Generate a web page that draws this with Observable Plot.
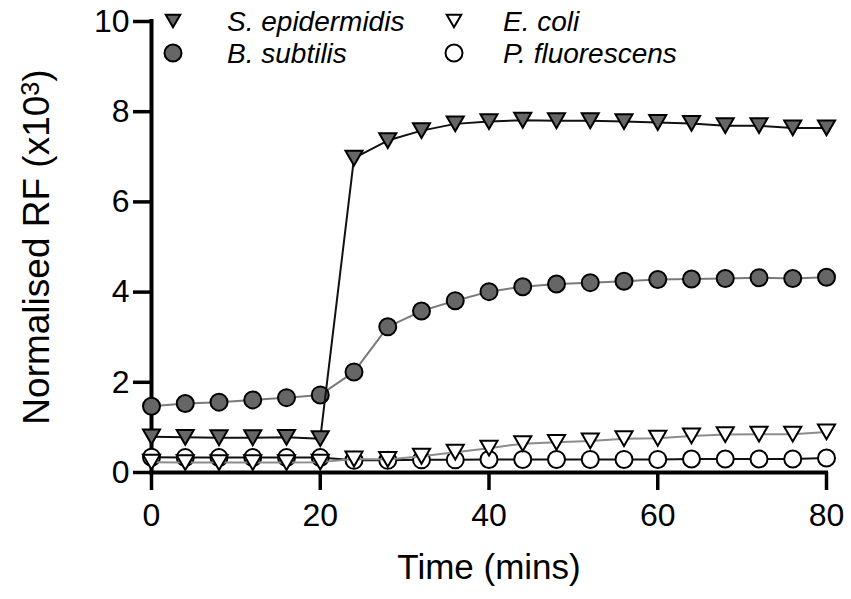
<!DOCTYPE html>
<html>
<head>
<meta charset="utf-8">
<script src="https://cdn.jsdelivr.net/npm/d3@7"></script>
<script src="https://cdn.jsdelivr.net/npm/@observablehq/plot@0.6"></script>
<style>
  html, body { margin: 0; padding: 0; background: #fff; }
  #chart { position: relative; width: 851px; height: 599px; }
</style>
</head>
<body>
<div id="chart"></div>
<script>
// ---- data ----
const time = [0, 4, 8, 12, 16, 20, 24, 28, 32, 36, 40, 44, 48, 52, 56, 60, 64, 68, 72, 76, 80];
const sEpidermidis = [0.79, 0.78, 0.77, 0.77, 0.78, 0.75, 6.97, 7.36, 7.58, 7.73, 7.78, 7.81, 7.80, 7.80, 7.78, 7.76, 7.74, 7.69, 7.69, 7.64, 7.64];
const bSubtilis   = [1.47, 1.53, 1.56, 1.61, 1.66, 1.72, 2.23, 3.23, 3.58, 3.81, 4.01, 4.12, 4.18, 4.21, 4.24, 4.28, 4.29, 4.30, 4.32, 4.30, 4.33];
const eColi       = [0.23, 0.22, 0.22, 0.22, 0.22, 0.23, 0.30, 0.29, 0.36, 0.45, 0.54, 0.64, 0.67, 0.70, 0.75, 0.76, 0.81, 0.84, 0.85, 0.85, 0.90];
const pFluorescens = [0.34, 0.33, 0.33, 0.33, 0.33, 0.33, 0.27, 0.27, 0.28, 0.28, 0.29, 0.29, 0.29, 0.29, 0.29, 0.29, 0.30, 0.30, 0.30, 0.30, 0.32];
const seriesNames = ["S. epidermidis", "B. subtilis", "E. coli", "P. fluorescens"];
const xTicks = [0, 20, 40, 60, 80];
const yTicks = [0, 2, 4, 6, 8, 10];
const xLabel = "Time (mins)";
const yLabelMain = "Normalised RF (x10";
const yLabelSup = "3";
const yLabelEnd = ")";

const FONT = "'Liberation Sans', Arial, Helvetica, sans-serif";
const GREY = "#666666";

// inverted triangle centred on its bounding box
const triDown = {
  draw(ctx, size) {
    const w = Math.sqrt(size / Math.PI) * 0.9;
    const h = w * Math.sqrt(3);
    ctx.moveTo(-w, -h / 2);
    ctx.lineTo(w, -h / 2);
    ctx.lineTo(0, h / 2);
    ctx.closePath();
  }
};

const style = {
  [seriesNames[0]]: {line: "#111", fill: GREY, symbol: triDown, r: 9.5},
  [seriesNames[1]]: {line: "#7a7a7a", fill: GREY, symbol: "circle", r: 8.5},
  [seriesNames[2]]: {line: "#8c8c8c", fill: "#fff", symbol: triDown, r: 9.5},
  [seriesNames[3]]: {line: "#111", fill: "#fff", symbol: "circle", r: 8.5}
};
const values = {
  [seriesNames[0]]: sEpidermidis,
  [seriesNames[1]]: bSubtilis,
  [seriesNames[2]]: eColi,
  [seriesNames[3]]: pFluorescens
};
const rows = name => values[name].map((v, i) => ({t: time[i], v}));

// drawing order: last listed is on top
const drawOrder = [seriesNames[3], seriesNames[2], seriesNames[1], seriesNames[0]];
const seriesMarks = drawOrder.flatMap(name => {
  const s = style[name];
  return [
    Plot.line(rows(name), {x: "t", y: "v", stroke: s.line, strokeWidth: 2}),
    Plot.dot(rows(name), {x: "t", y: "v", symbol: s.symbol, r: s.r, fill: s.fill, stroke: "#000", strokeWidth: 2})
  ];
});

const yLabelFull = yLabelMain + yLabelSup + yLabelEnd;

const svg = Plot.plot({
  width: 851,
  height: 599,
  marginLeft: 151,
  marginRight: 25,
  marginTop: 21,
  marginBottom: 127,
  x: {domain: [0, 80]},
  y: {domain: [0, 10]},
  style: {fontFamily: FONT, background: "#fff", color: "#000", overflow: "visible"},
  marks: [
    Plot.axisX(xTicks, {tickSize: 18, tickPadding: 13, fontSize: 32, strokeWidth: 3.5, label: null, stroke: "#000", fill: "#000"}),
    Plot.axisY(yTicks, {tickSize: 18, tickPadding: 4, fontSize: 32, strokeWidth: 3.5, label: null, stroke: "#000", fill: "#000"}),
    Plot.ruleY([0], {strokeWidth: 4, stroke: "#000", strokeLinecap: "square"}),
    Plot.ruleX([0], {strokeWidth: 4, stroke: "#000", strokeLinecap: "square"}),
    Plot.text([xLabel], {frameAnchor: "bottom", dy: 106, lineAnchor: "bottom", fontSize: 35, fill: "#000"}),
    Plot.text([yLabelFull], {frameAnchor: "left", dx: -114, rotate: -90, lineAnchor: "middle", textAnchor: "middle", fontSize: 37, fill: "#000"}),
    ...seriesMarks
  ]
});

// superscript for the y label
d3.select(svg).selectAll("text").filter(function() { return this.textContent === yLabelFull; })
  .each(function() {
    const t = d3.select(this);
    t.text(null);
    t.append("tspan").text(yLabelMain);
    t.append("tspan").attr("dy", "-0.42em").attr("font-size", "0.68em").text(yLabelSup);
    t.append("tspan").attr("dy", "0.285em").text(yLabelEnd);
  });

// legend (two columns, two rows)
const legendItems = [
  {name: seriesNames[0], col: 0, row: 0},
  {name: seriesNames[1], col: 0, row: 1},
  {name: seriesNames[2], col: 1, row: 0},
  {name: seriesNames[3], col: 1, row: 1}
];
const colX = [173, 454];
const textX = [227, 503];
const rowY = [21, 53];
const lg = d3.select(svg).append("g").attr("class", "legend");
legendItems.forEach(it => {
  const s = style[it.name];
  const sym = s.symbol === "circle" ? d3.symbolCircle : s.symbol;
  const rr = s.symbol === "circle" ? s.r : s.r * 0.85;
  lg.append("path")
    .attr("d", d3.symbol(sym, rr * rr * Math.PI)())
    .attr("transform", `translate(${colX[it.col]},${rowY[it.row]})`)
    .attr("fill", s.fill)
    .attr("stroke", "#000")
    .attr("stroke-width", 2);
  lg.append("text")
    .attr("x", textX[it.col])
    .attr("y", rowY[it.row] + 10)
    .attr("text-anchor", "start")
    .attr("font-family", FONT)
    .attr("font-style", "italic")
    .attr("font-size", 28)
    .attr("fill", "#000")
    .text(it.name);
});

document.getElementById("chart").appendChild(svg);
</script>
</body>
</html>
